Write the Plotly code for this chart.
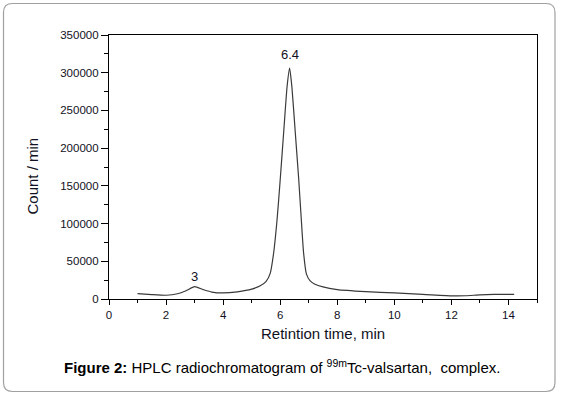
import plotly.graph_objects as go

# Data
time_min = [1.0, 1.5, 2.0, 2.4, 2.7, 3.0, 3.3, 3.6, 4.0, 4.5, 5.0, 5.3, 5.5, 5.65, 5.77,
            5.89, 6.0, 6.12, 6.24, 6.33, 6.41, 6.53, 6.65, 6.74, 6.82, 6.92, 7.05, 7.2,
            7.5, 8.0, 9.0, 10.0, 11.0, 12.0, 12.5, 13.0, 13.5, 14.2]
counts = [7000, 5800, 5000, 7000, 11000, 16300, 12500, 9200, 8000, 9500, 13000, 17500,
          23000, 34000, 61000, 105000, 158000, 220000, 281000, 306000, 281000, 220000,
          158000, 105000, 61000, 33000, 24000, 20000, 16000, 12500, 9800, 8000, 6000,
          4200, 4300, 5500, 6000, 6000]

peak_times = [3.0, 6.33]
peak_labels = ["3", "6.4"]
peak_label_y = [29900, 324800]

x_ticks = [0, 2, 4, 6, 8, 10, 12, 14]
y_ticks = [0, 50000, 100000, 150000, 200000, 250000, 300000, 350000]

W, H = 561, 397
L, R, T, B = 109, 24, 35, 98
PW, PH = W - L - R, H - T - B


def px(xp):
    return (xp - L) / PW


def py(yp):
    return (H - B - yp) / PH


FONT = "Liberation Sans, Arial, sans-serif"
TXT = "#111122"

fig = go.Figure()
fig.add_trace(go.Scatter(x=time_min, y=counts, mode="lines",
                         line=dict(color="#3a3a3a", width=1.2, shape="spline", smoothing=0.5),
                         hoverinfo="skip", showlegend=False))

for t, lab, yv in zip(peak_times, peak_labels, peak_label_y):
    fig.add_annotation(x=t, y=yv, text=lab, showarrow=False, xanchor="center", yanchor="middle",
                       font=dict(family=FONT, size=13, color=TXT))

# axis titles and caption
fig.add_annotation(xref="paper", yref="paper", x=px(31.5), y=py(176), text="Count / min",
                   textangle=-90, showarrow=False, xanchor="center", yanchor="middle",
                   font=dict(family=FONT, size=15, color=TXT))
fig.add_annotation(xref="paper", yref="paper", x=px(322.8), y=py(333), text="Retintion time, min",
                   showarrow=False, xanchor="center", yanchor="middle",
                   font=dict(family=FONT, size=15, color=TXT))
fig.add_annotation(xref="paper", yref="paper", x=px(282), y=py(366),
                   text="<b>Figure 2:</b> HPLC radiochromatogram of <sup>99m</sup>Tc-valsartan,  complex.",
                   showarrow=False, xanchor="center", yanchor="middle",
                   font=dict(family=FONT, size=15, color="#000000"))

# rounded outer frame
x0, x1, y0, y1, r = 3.5, 555.0, 3.5, 391.5, 9
path = (f"M {px(x0 + r)} {py(y0)} L {px(x1 - r)} {py(y0)} Q {px(x1)} {py(y0)} {px(x1)} {py(y0 + r)} "
        f"L {px(x1)} {py(y1 - r)} Q {px(x1)} {py(y1)} {px(x1 - r)} {py(y1)} "
        f"L {px(x0 + r)} {py(y1)} Q {px(x0)} {py(y1)} {px(x0)} {py(y1 - r)} "
        f"L {px(x0)} {py(y0 + r)} Q {px(x0)} {py(y0)} {px(x0 + r)} {py(y0)} Z")
fig.add_shape(type="path", path=path, xref="paper", yref="paper",
              line=dict(color="#a0a0a0", width=1.2), layer="below")

fig.update_layout(
    width=W, height=H,
    margin=dict(l=L, r=R, t=T, b=B, pad=0),
    paper_bgcolor="white", plot_bgcolor="white",
    showlegend=False,
    font=dict(family=FONT, size=11, color=TXT),
)
fig.update_xaxes(range=[0, 15], tickvals=x_ticks, ticks="outside", ticklen=5, tickwidth=1,
                 tickcolor="black", showline=True, linecolor="black", linewidth=1.2,
                 mirror=True, showgrid=False, zeroline=False,
                 tickfont=dict(family=FONT, size=11.5, color=TXT),
                 minor=dict(dtick=1, tick0=0, ticks="outside", ticklen=3, tickcolor="black"))
fig.update_yaxes(range=[0, 350000], tickvals=y_ticks, tickformat="d", ticks="outside", ticklen=7,
                 tickwidth=1, tickcolor="black", showline=True, linecolor="black", linewidth=1.2,
                 mirror=True, showgrid=False, zeroline=False,
                 tickfont=dict(family=FONT, size=11.5, color=TXT),
                 minor=dict(dtick=25000, tick0=0, ticks="outside", ticklen=4, tickcolor="black"))

fig.write_html("out.html", config={"displayModeBar": False},
               post_script="document.body.style.margin='0';document.body.style.overflow='hidden';")
